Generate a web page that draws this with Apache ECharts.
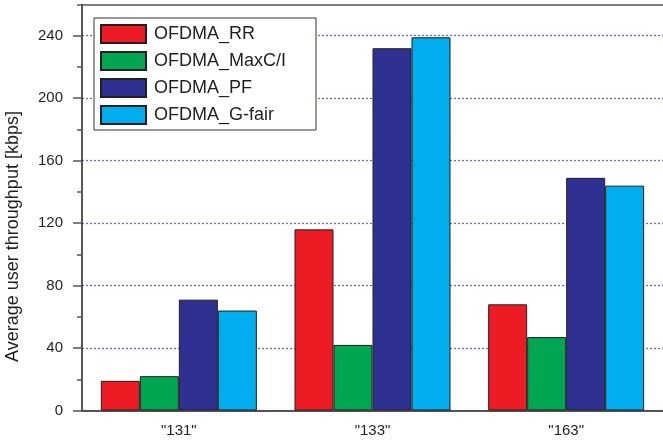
<!DOCTYPE html>
<html>
<head>
<meta charset="utf-8">
<script src="https://cdn.jsdelivr.net/npm/echarts@6/dist/echarts.min.js"></script>
<style>html,body{margin:0;padding:0;background:#fff;}#c{width:663px;height:443px;}</style>
</head>
<body>
<div id="c"></div>
<script>
var categories = ['"131"', '"133"', '"163"'];
var seriesNames = ['OFDMA_RR', 'OFDMA_MaxC/I', 'OFDMA_PF', 'OFDMA_G-fair'];
var rrValues = [19, 116, 68];
var maxciValues = [22, 42, 47];
var pfValues = [71, 232, 149];
var gfairValues = [64, 239, 144];
var yTicks = [0, 40, 80, 120, 160, 200, 240];
var colors = ['#ED1C24', '#00A651', '#2E3192', '#00AEEF'];
var allValues = [rrValues, maxciValues, pfValues, gfairValues];

var txt = '#231f20';
var font = '"Liberation Sans", Arial, Helvetica, sans-serif';
var chart = echarts.init(document.getElementById('c'), null, {renderer: 'canvas'});

var series = seriesNames.map(function (n, i) {
  return {
    name: n, type: 'bar', xAxisIndex: 0, yAxisIndex: 0,
    data: allValues[i], barWidth: 39, barGap: '0%',
    itemStyle: {color: colors[i], borderColor: '#231f20', borderWidth: 1},
    emphasis: {disabled: true}
  };
});

chart.setOption({
  animation: false,
  backgroundColor: '#fff',
  textStyle: {fontFamily: font},
  grid: {left: 82, right: -3, top: 4.5, bottom: 32.5, show: false},
  legend: {
    orient: 'vertical', left: 94, top: 18,
    padding: [6, 30, 5, 6],
    itemWidth: 45, itemHeight: 18, itemGap: 7,
    icon: 'rect',
    backgroundColor: '#fff', borderColor: '#333', borderWidth: 1,
    textStyle: {fontSize: 18, color: txt, fontFamily: font, padding: [0, 0, 0, 3]},
    selectedMode: false,
    data: seriesNames
  },
  xAxis: [{
    type: 'category', data: categories, position: 'bottom',
    axisLine: {lineStyle: {color: '#555', width: 2}},
    axisTick: {alignWithLabel: true, length: 8, lineStyle: {color: '#555', width: 1.5}},
    axisLabel: {fontSize: 15, color: txt, margin: 13, fontFamily: font},
    splitLine: {show: false}
  }, {
    type: 'category', data: categories, position: 'bottom',
    axisLine: {show: false},
    axisTick: {length: 4, lineStyle: {color: '#555', width: 1.5}},
    axisLabel: {show: false},
    splitLine: {show: false}
  }, {
    type: 'category', data: categories, position: 'top',
    axisLine: {show: true, lineStyle: {color: '#555', width: 1.5}},
    axisTick: {show: false},
    axisLabel: {show: false},
    splitLine: {show: false}
  }],
  yAxis: [{
    type: 'value', min: 0, max: 260, interval: 40,
    axisLine: {show: true, lineStyle: {color: '#231f20', width: 1.5}},
    axisTick: {show: true, length: 9, customValues: yTicks, lineStyle: {color: '#555', width: 1.5}},
    axisLabel: {fontSize: 15, color: txt, margin: 19, customValues: yTicks, fontFamily: font},
    splitLine: {show: true, lineStyle: {color: '#6a6ab8', width: 1.3, type: [2, 2]}}
  }, {
    type: 'value', min: 0, max: 260, interval: 20, position: 'left',
    axisLine: {show: false},
    axisTick: {show: true, length: 5, lineStyle: {color: '#555', width: 1.5}},
    axisLabel: {show: false},
    splitLine: {show: false}
  }],
  graphic: [{
    type: 'text', x: 13, y: 236.5, rotation: Math.PI / 2,
    style: {text: 'Average user throughput [kbps]', fontSize: 18, fill: txt, fontFamily: font, align: 'center', verticalAlign: 'middle'}
  }],
  series: series
});
</script>
</body>
</html>
